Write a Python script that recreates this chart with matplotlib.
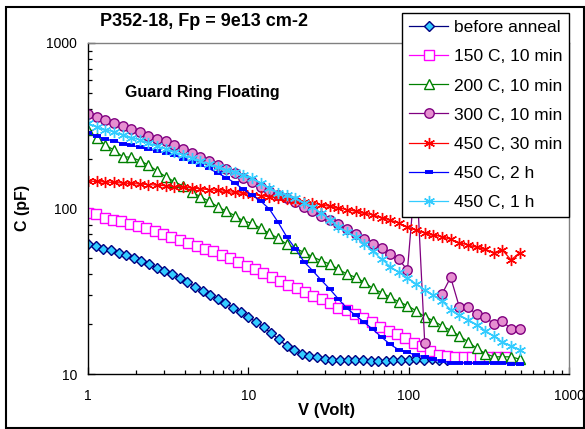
import matplotlib
matplotlib.use("Agg")
import matplotlib.pyplot as plt
from matplotlib.patches import Rectangle
from matplotlib.ticker import LogLocator, NullFormatter
import numpy as np

# ---- data -------------------------------------------------------------
# bias voltage grids (V)
v_fine = [1.000, 1.116, 1.245, 1.389, 1.551, 1.730, 1.931, 2.154, 2.404, 2.683,
          2.994, 3.341, 3.728, 4.160, 4.642, 5.180, 5.781, 6.451, 7.199, 8.033,
          8.964, 10.00, 11.16, 12.45, 13.89, 15.51, 17.30, 19.31, 21.54, 24.04,
          26.83, 29.94, 33.41, 37.28, 41.60, 46.42, 51.80, 57.81, 64.51, 71.99,
          80.33, 89.64, 100.0, 111.6, 124.5, 138.9, 155.1, 173.0]
v_sq = [1.000, 1.127, 1.271, 1.433, 1.615, 1.821, 2.053, 2.314, 2.609, 2.942,
        3.316, 3.739, 4.215, 4.752, 5.357, 6.040, 6.809, 7.677, 8.655, 9.753,
        10.99, 12.40, 13.98, 15.76, 17.76, 20.02, 22.57, 25.45, 28.69, 32.34,
        36.46, 41.11, 46.35, 52.25, 58.90, 66.41, 74.86, 84.40, 95.13, 107.2,
        120.9, 136.3, 153.7, 173.2, 195.3, 220.1, 248.2, 279.8, 315.5, 355.6,
        400.9]
v_wide = [1.000, 1.132, 1.281, 1.451, 1.642, 1.859, 2.104, 2.382, 2.697, 3.053,
          3.456, 3.912, 4.429, 5.013, 5.675, 6.425, 7.273, 8.233, 9.318, 10.55,
          11.94, 13.52, 15.30, 17.32, 19.61, 22.20, 25.13, 28.44, 32.20, 36.45,
          41.26, 46.71, 52.87, 59.85, 67.75, 76.70, 86.82, 98.28, 111.2, 125.9,
          142.6, 161.4, 182.7, 206.8, 234.1, 265.0, 300.0, 339.6, 384.4, 435.2,
          492.6]

# capacitance (pF)
c_before = [60.8, 59.3, 56.9, 55.9, 54.1, 52.2, 50.0, 48.4, 46.2, 43.5,
            41.9, 40.2, 38.0, 35.8, 33.7, 31.9, 30.0, 28.3, 26.7, 25.2,
            23.7, 22.0, 20.7, 19.2, 17.6, 16.2, 14.8, 14.0, 13.3, 12.9,
            12.6, 12.4, 12.2, 12.2, 12.1, 12.2, 12.1, 12.0, 12.0, 12.0,
            12.1, 12.1, 12.2, 12.3, 12.2, 12.3, 12.2, 12.2]
c_150_10m = [93.5, 92.0, 88.2, 85.7, 83.5, 80.4, 78.4, 75.9, 72.7, 69.8,
             67.3, 64.8, 62.0, 59.6, 57.1, 55.0, 52.6, 50.5, 47.5, 44.9,
             43.1, 40.8, 38.6, 36.5, 34.6, 32.9, 31.1, 29.5, 28.4, 26.9,
             25.2, 24.2, 22.9, 21.7, 20.5, 19.3, 18.3, 17.4, 16.4, 15.3,
             14.7, 13.7, 13.1, 12.9, 12.6, 12.6, 12.6, 12.6, 12.6, 12.7, 12.7]
c_200_10m = [298.1, 265.6, 242.0, 225.7, 205.6, 203.9, 194.5, 183.2, 168.5, 155.7,
             145.2, 136.8, 126.3, 117.8, 111.0, 102.5, 96.6, 90.5, 84.1, 81.4,
             75.9, 70.8, 66.1, 61.0, 57.5, 54.4, 51.1, 48.4, 46.2, 42.9,
             40.2, 38.4, 35.8, 32.9, 31.0, 29.1, 27.3, 25.9, 24.1, 22.2,
             21.0, 19.5, 18.4, 17.0, 15.7, 14.3, 13.3, 12.7, 12.7, 12.7, 12.3]
c_300_10m = [372.4, 357.2, 344.0, 327.2, 313.8, 303.5, 288.7, 275.4, 264.1, 255.8,
             242.0, 228.8, 216.4, 204.8, 193.6, 183.2, 173.3, 162.8, 153.9, 144.6,
             135.8, 127.6, 120.7, 115.0, 109.5, 102.8, 96.6, 90.7, 85.2, 80.1,
             75.2, 70.1, 65.4, 61.3, 57.7, 52.9, 49.2, 42.5, 180.0, 15.5,
             np.nan, 30.4, 38.4, 25.5, 25.3, 23.0, 22.0, 20.1, 21.0, 18.6, 18.6]
c_450_30m = [146.6, 145.6, 144.6, 143.6, 142.6, 141.6, 140.6, 139.5, 138.3, 137.2,
             135.8, 134.5, 133.0, 131.5, 130.1, 128.5, 126.8, 125.1, 123.4, 121.5,
             119.7, 117.7, 115.7, 113.7, 111.6, 109.5, 107.4, 105.1, 103.0, 100.7,
             98.5, 96.2, 93.9, 91.3, 88.2, 85.2, 81.7, 77.0, 74.2, 71.4,
             69.2, 67.5, 65.2, 62.1, 60.2, 58.3, 56.7, 54.1, 56.1, 48.9, 54.1]
c_450_2h = [284.7, 272.3, 263.0, 255.8, 247.0, 240.3, 235.3, 228.8, 222.5, 216.4,
            209.1, 200.5, 192.3, 183.2, 174.5, 163.9, 153.9, 142.6, 130.3, 120.7,
            111.0, 99.3, 82.9, 67.7, 57.3, 47.8, 42.2, 37.0, 32.6, 28.4,
            24.9, 22.6, 20.5, 18.6, 16.7, 15.1, 14.0, 13.5, 13.0, 12.7,
            12.3, 12.0, 11.7, 11.7, 11.6, 11.6, 11.6, 11.6, 11.6, 11.5, 11.5]
c_450_1h = [327.2, 310.7, 300.1, 289.9, 278.1, 268.5, 259.4, 248.8, 238.6, 228.8,
            219.5, 210.6, 201.9, 193.6, 185.8, 178.2, 170.9, 165.1, 159.4, 152.2,
            141.6, 133.9, 124.9, 120.2, 115.7, 108.7, 102.4, 93.9, 85.4, 77.8,
            72.1, 67.3, 61.0, 55.0, 49.5, 44.6, 41.1, 38.0, 35.1, 32.3,
            29.9, 27.6, 24.5, 22.7, 21.3, 19.9, 18.3, 16.9, 15.6, 14.8, 14.0]

labels = ["before anneal", "150 C, 10 min", "200 C, 10 min", "300 C, 10 min",
          "450 C, 30 min", "450 C, 2 h", "450 C, 1 h"]
x_ticks = [1, 10, 100, 1000]
x_tick_labels = ["1", "10", "100", "1000"]
y_ticks = [10, 100, 1000]
y_tick_labels = ["10", "100", "1000"]

# ---- figure -----------------------------------------------------------
plt.rcParams["font.family"] = ["Liberation Sans", "DejaVu Sans"]

W, H = 585, 429
fig = plt.figure(figsize=(W / 100, H / 100), dpi=100)
fig.patch.set_facecolor("white")

ax = fig.add_axes([88 / W, 1 - 374 / H, (569 - 88) / W, (374 - 43) / H])
ax.set_xscale("log")
ax.set_yscale("log")

star = (6, 2, 0)
series = [
    (v_fine, c_before, dict(color="#000080", marker="D", ms=5.6, mfc="#33CCFF",
                            mec="#000080", mew=1.0)),
    (v_sq, c_150_10m, dict(color="#FF00FF", marker="s", ms=6.8, mfc="white",
                           mec="#FF00FF", mew=1.0)),
    (v_wide, c_200_10m, dict(color="#008000", marker="^", ms=7.6, mfc="white",
                             mec="#008000", mew=1.0)),
    (v_wide, c_300_10m, dict(color="#800080", marker="o", ms=6.8, mfc="#E68FD0",
                             mec="#800080", mew=1.0)),
    (v_wide, c_450_30m, dict(color="#FF0000", marker=star, ms=8.0, mfc="#FF0000",
                             mec="#FF0000", mew=1.0)),
    (v_wide, c_450_2h, dict(color="#0000FF", marker="_", ms=6.0, mfc="#0000FF",
                            mec="#0000FF", mew=2.8)),
    (v_wide, c_450_1h, dict(color="#33CCFF", marker=star, ms=8.0, mfc="#33CCFF",
                            mec="#33CCFF", mew=1.0)),
]
for (v, c, style), lab in zip(series, labels):
    ax.plot(v, c, lw=0.9, label=lab, **style)

ax.set_xlim(1, 1000)
ax.set_ylim(10, 1000)

ax.set_xticks(x_ticks)
ax.set_xticklabels(x_tick_labels)
ax.set_yticks(y_ticks)
ax.set_yticklabels(y_tick_labels)
ax.xaxis.set_minor_locator(LogLocator(base=10, subs=np.arange(2, 10)))
ax.yaxis.set_minor_locator(LogLocator(base=10, subs=np.arange(2, 10)))
ax.xaxis.set_minor_formatter(NullFormatter())
ax.yaxis.set_minor_formatter(NullFormatter())
ax.tick_params(which="both", direction="in", top=False, right=False, color="black",
               width=0.9)
ax.tick_params(which="major", length=5, labelsize=10)
ax.tick_params(axis="x", which="major", pad=11)
ax.tick_params(axis="y", which="major", pad=8)
ax.tick_params(which="minor", length=3)

for side in ("left", "bottom"):
    ax.spines[side].set_color("black")
    ax.spines[side].set_linewidth(1.0)
for side in ("top", "right"):
    ax.spines[side].set_color("#808080")
    ax.spines[side].set_linewidth(1.0)

leg = ax.legend(loc="upper left", bbox_to_anchor=(402 / W, 1 - 13 / H),
                bbox_transform=fig.transFigure, borderaxespad=0, fontsize=12.5,
                frameon=True, fancybox=False, framealpha=1, edgecolor="black",
                handlelength=2.25, handletextpad=0.3, labelspacing=0.8,
                borderpad=0.42)
leg.get_frame().set_linewidth(1.0)
leg.set_zorder(10)

# text
fig.text(100 / W, 1 - 22 / H, "P352-18, Fp = 9e13 cm-2", ha="left", va="center",
         fontsize=13, fontweight="bold")
fig.text(125 / W, 1 - 92 / H, "Guard Ring Floating", ha="left", va="center",
         fontsize=11.5, fontweight="bold")
fig.text(22 / W, 1 - 208 / H, "C (pF)", rotation=90, ha="center", va="center",
         fontsize=11.5, fontweight="bold")
fig.text(327 / W, 1 - 411 / H, "V (Volt)", ha="center", va="center",
         fontsize=12, fontweight="bold")

# outer chart border
fig.patches.append(Rectangle((6 / W, 1 / H), (584 - 6) / W, (428 - 7) / H,
                             transform=fig.transFigure, fill=False,
                             edgecolor="black", linewidth=1.5))

fig.savefig("out.png", dpi=100)
